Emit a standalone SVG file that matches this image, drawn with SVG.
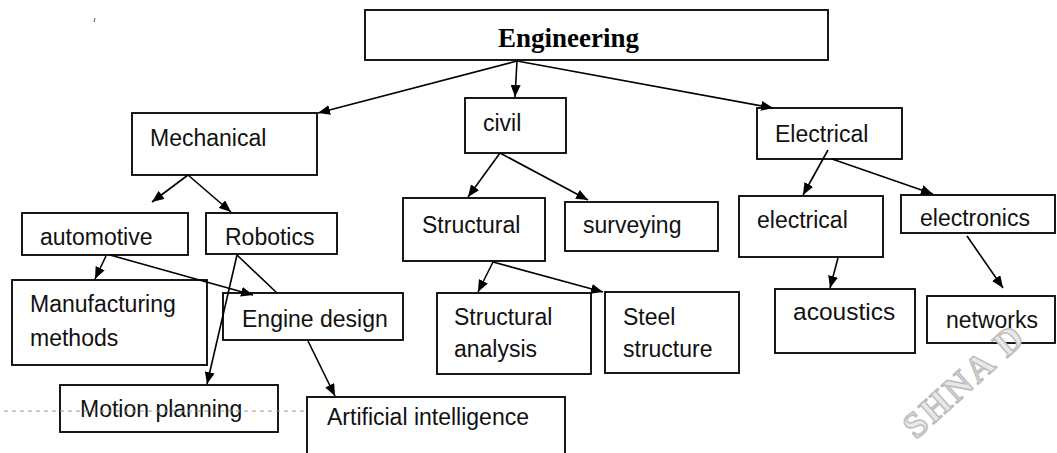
<svg xmlns="http://www.w3.org/2000/svg" width="1057" height="453" viewBox="0 0 1057 453">
<style>
.box{fill:#fff;stroke:#000;stroke-width:1.8}
.t{font-family:"Liberation Sans",Arial,sans-serif;font-size:23px;fill:#111}
.title{font-family:"Liberation Serif","Times New Roman",serif;font-size:27px;font-weight:bold;fill:#000}
.c{fill:none;stroke:#000;stroke-width:1.6}
.wm{font-family:"Liberation Serif",serif;font-weight:bold;font-size:36px;fill:#e8e8e8;stroke:#bdbdbd;stroke-width:1.5}
</style>
<defs>
<marker id="ah" viewBox="0 0 12 10" refX="12" refY="5" markerWidth="12" markerHeight="10" markerUnits="userSpaceOnUse" orient="auto">
<path d="M0,0 L12,5 L0,10 z" fill="#000"/>
</marker>
</defs>
<rect width="1057" height="453" fill="#fff"/>
<path d="M95,18 L94,22" stroke="#555" stroke-width="1"/>
<g id="engineering"><rect class="box" x="365" y="10" width="463" height="50"/><text class="title" x="498" y="47">Engineering</text></g>
<g id="mechanical"><rect class="box" x="132" y="113" width="185" height="62"/><text class="t" x="150" y="146">Mechanical</text></g>
<g id="civil"><rect class="box" x="465" y="98" width="101" height="55"/><text class="t" x="483" y="131">civil</text></g>
<g id="electrical-top"><rect class="box" x="757" y="108" width="145" height="51"/><text class="t" x="775" y="142">Electrical</text></g>
<g id="automotive"><rect class="box" x="22" y="213" width="166" height="42"/><text class="t" x="40" y="245">automotive</text></g>
<g id="robotics"><rect class="box" x="206" y="213" width="131" height="41"/><text class="t" x="225" y="245">Robotics</text></g>
<g id="manufacturing"><rect class="box" x="12" y="280" width="195" height="85"/><text class="t" x="30" y="312">Manufacturing</text><text class="t" x="30" y="346">methods</text></g>
<g id="engine-design"><rect class="box" x="223" y="293" width="180" height="47"/><text class="t" x="242" y="327">Engine design</text></g>
<g id="motion-planning"><rect class="box" x="60" y="385" width="218" height="47"/><text class="t" x="80" y="417">Motion planning</text></g>
<g id="ai"><rect class="box" x="307" y="397" width="258" height="62"/><text class="t" x="327" y="425">Artificial intelligence</text></g>
<g id="structural"><rect class="box" x="403" y="198" width="142" height="63"/><text class="t" x="422" y="233">Structural</text></g>
<g id="surveying"><rect class="box" x="565" y="202" width="153" height="49"/><text class="t" x="583" y="233">surveying</text></g>
<g id="structural-analysis"><rect class="box" x="437" y="293" width="154" height="81"/><text class="t" x="454" y="325">Structural</text><text class="t" x="454" y="357">analysis</text></g>
<g id="steel-structure"><rect class="box" x="605" y="292" width="134" height="81"/><text class="t" x="623" y="325">Steel</text><text class="t" x="623" y="357">structure</text></g>
<g id="electrical"><rect class="box" x="739" y="196" width="144" height="61"/><text class="t" x="757" y="228">electrical</text></g>
<g id="electronics"><rect class="box" x="901" y="195" width="154" height="38"/><text class="t" x="920" y="226">electronics</text></g>
<g id="acoustics"><rect class="box" x="775" y="289" width="140" height="64"/><text class="t" x="793" y="320" style="font-size:24.5px">acoustics</text></g>
<g id="networks"><rect class="box" x="927" y="296" width="128" height="47"/><text class="t" x="946" y="328">networks</text></g>
<g id="connectors">
<path class="c" d="M517,61 L318,113" marker-end="url(#ah)"/>
<path class="c" d="M517,61 L515,97" marker-end="url(#ah)"/>
<path class="c" d="M517,61 L773,108" marker-end="url(#ah)"/>
<path class="c" d="M188,175 L152,202" marker-end="url(#ah)"/>
<path class="c" d="M188,175 L231,212" marker-end="url(#ah)"/>
<path class="c" d="M106,256 L95,279" marker-end="url(#ah)"/>
<path class="c" d="M110,255 L253,295" marker-end="url(#ah)"/>
<path class="c" d="M237,255 L207,384" marker-end="url(#ah)"/>
<path class="c" d="M237,255 L277,293"/>
<path class="c" d="M308,341 L335,396" marker-end="url(#ah)"/>
<path class="c" d="M500,153 L468,197" marker-end="url(#ah)"/>
<path class="c" d="M500,153 L588,200" marker-end="url(#ah)"/>
<path class="c" d="M493,262 L478,292" marker-end="url(#ah)"/>
<path class="c" d="M493,262 L603,292" marker-end="url(#ah)"/>
<path class="c" d="M828,150 L803,195" marker-end="url(#ah)"/>
<path class="c" d="M832,159 L933,194" marker-end="url(#ah)"/>
<path class="c" d="M838,258 L830,288" marker-end="url(#ah)"/>
<path class="c" d="M967,236 L1003,288" marker-end="url(#ah)"/>
</g>
<path d="M4,411 L305,411" stroke="#999" stroke-width="1" stroke-dasharray="4,4" fill="none"/>
<text class="wm" transform="translate(916,440) rotate(-42)" letter-spacing="3">SHNA D</text>
</svg>
